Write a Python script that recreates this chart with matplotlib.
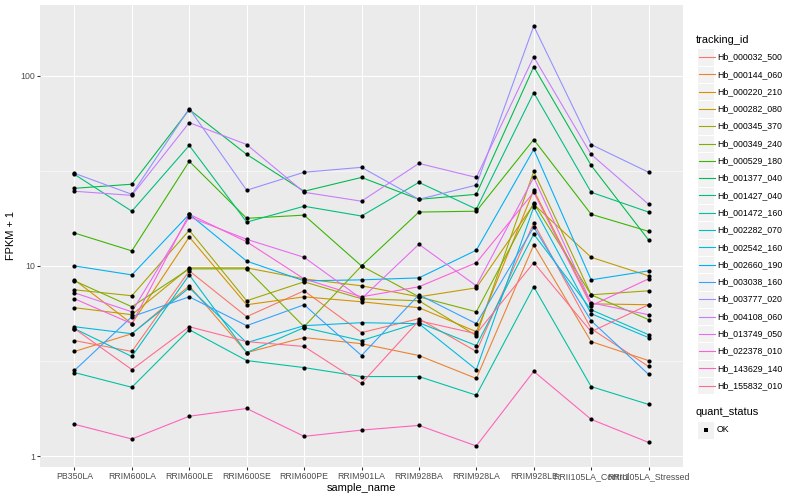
import matplotlib
matplotlib.use('Agg')
import matplotlib.pyplot as plt
from matplotlib.patches import Rectangle
import numpy as np

plt.rcParams['font.family'] = ['Liberation Sans', 'DejaVu Sans']

samples = ['PB350LA', 'RRIM600LA', 'RRIM600LE', 'RRIM600SE', 'RRIM600PE', 'RRIM901LA',
           'RRIM928BA', 'RRIM928LA', 'RRIM928LE', 'RRII105LA_Control', 'RRII105LA_Stressed']

tracking_ids = ['Hb_000032_500', 'Hb_000144_060', 'Hb_000220_210', 'Hb_000282_080',
                'Hb_000345_370', 'Hb_000349_240', 'Hb_000529_180', 'Hb_001377_040',
                'Hb_001427_040', 'Hb_001472_160', 'Hb_002282_070', 'Hb_002542_160',
                'Hb_002660_190', 'Hb_003038_160', 'Hb_003777_020', 'Hb_004108_060',
                'Hb_013749_050', 'Hb_022378_010', 'Hb_143629_140', 'Hb_155832_010']

# FPKM + 1, one list per gene, in sample order
hb_000032_500 = [4.05, 3.55, 9.42, 5.41, 7.40, 4.46, 5.28, 3.55, 16.8, 4.68, 2.96]
hb_000144_060 = [3.55, 4.40, 7.86, 3.50, 4.20, 3.90, 3.38, 2.56, 12.9, 4.00, 3.18]
hb_000220_210 = [8.45, 4.97, 14.2, 6.25, 6.88, 6.48, 6.03, 4.51, 25.0, 6.32, 6.25]
hb_000282_080 = [6.03, 5.54, 9.77, 9.77, 8.55, 7.86, 6.88, 7.67, 21.1, 11.1, 8.87]
hb_000345_370 = [7.49, 6.97, 15.4, 6.56, 8.25, 6.72, 6.56, 4.30, 31.4, 7.05, 7.40]
hb_000349_240 = [8.35, 6.10, 9.65, 9.65, 4.79, 10.0, 6.88, 5.74, 21.4, 7.05, 5.22]
hb_000529_180 = [14.9, 12.0, 35.5, 17.8, 18.5, 10.0, 19.2, 19.4, 46.2, 18.7, 15.2]
hb_001377_040 = [25.6, 26.9, 66.4, 38.6, 24.7, 29.2, 22.4, 23.8, 111.5, 33.8, 13.7]
hb_001427_040 = [30.3, 19.4, 43.0, 17.0, 20.6, 18.3, 27.5, 19.9, 81.5, 24.4, 19.2]
hb_001472_160 = [2.75, 2.30, 4.62, 3.18, 2.92, 2.62, 2.62, 2.09, 7.77, 2.32, 1.87]
hb_002282_070 = [4.68, 3.34, 8.97, 3.50, 4.74, 4.05, 5.03, 3.81, 14.7, 5.88, 4.35]
hb_002542_160 = [4.79, 4.40, 7.67, 3.95, 4.85, 5.03, 4.97, 2.85, 20.4, 5.61, 4.20]
hb_002660_190 = [10.0, 8.97, 18.7, 10.6, 8.35, 8.45, 8.65, 12.1, 41.0, 8.45, 9.42]
hb_003038_160 = [2.82, 5.41, 6.88, 4.85, 6.25, 3.38, 7.05, 4.97, 16.0, 5.15, 2.69]
hb_003777_020 = [30.7, 23.8, 67.2, 25.0, 31.1, 33.0, 22.4, 26.6, 182.7, 43.5, 31.1]
hb_004108_060 = [24.7, 23.5, 56.7, 43.5, 24.4, 21.9, 34.6, 29.2, 125.7, 38.6, 21.1]
hb_013749_050 = [7.22, 5.74, 18.1, 13.8, 11.1, 6.72, 13.0, 7.86, 29.2, 6.40, 5.54]
hb_022378_010 = [6.72, 4.97, 18.7, 13.4, 8.55, 6.88, 7.77, 10.4, 24.4, 6.18, 8.55]
hb_143629_140 = [1.47, 1.23, 1.62, 1.78, 1.27, 1.37, 1.45, 1.13, 2.79, 1.56, 1.18]
hb_155832_010 = [4.68, 2.85, 4.79, 4.00, 3.77, 2.41, 5.15, 4.40, 10.4, 4.51, 6.25]

series = [hb_000032_500, hb_000144_060, hb_000220_210, hb_000282_080, hb_000345_370,
          hb_000349_240, hb_000529_180, hb_001377_040, hb_001427_040, hb_001472_160,
          hb_002282_070, hb_002542_160, hb_002660_190, hb_003038_160, hb_003777_020,
          hb_004108_060, hb_013749_050, hb_022378_010, hb_143629_140, hb_155832_010]

# ggplot hue palette for 20 levels
colors = ['#F8766D', '#EA8331', '#D89000', '#C09B00', '#A3A500', '#7CAE00', '#39B600',
          '#00BB4E', '#00BF7D', '#00C1A3', '#00BFC4', '#00BAE0', '#00B0F6', '#35A2FF',
          '#9590FF', '#C77CFF', '#E76BF3', '#FA62DB', '#FF62BC', '#FF6C91']

fig = plt.figure(figsize=(800 / 72, 500 / 72), dpi=72)
ax = fig.add_axes([40 / 800, 33 / 500, 643 / 800, 462 / 500])
ax.set_facecolor('#EBEBEB')

x = np.arange(len(samples))
for vals, col in zip(series, colors):
    ax.plot(x, vals, color=col, lw=1.1, zorder=3)
for vals in series:
    ax.plot(x, vals, 'o', color='black', ms=4.2, mew=0, zorder=4)

ax.set_yscale('log')
allv = np.log10(np.concatenate([np.array(s) for s in series]))
lo, hi = allv.min(), allv.max()
r = hi - lo
ax.set_ylim(10 ** (lo - 0.05 * r), 10 ** (hi + 0.05 * r))
ax.set_xlim(-0.6, len(samples) - 0.4)

ax.set_yticks([1, 10, 100])
ax.set_yticklabels(['1', '10', '100'])
ax.set_yticks([10 ** 0.5, 10 ** 1.5], minor=True)
ax.yaxis.set_minor_formatter(matplotlib.ticker.NullFormatter())
ax.set_xticks(x)
ax.set_xticklabels(samples)

ax.grid(which='major', color='white', lw=1.07, zorder=0)
ax.grid(which='minor', axis='y', color='white', lw=0.53, zorder=0)
ax.set_axisbelow(True)
for s in ax.spines.values():
    s.set_visible(False)
ax.tick_params(which='major', length=2.75, width=1.07, color='#333333',
               labelsize=8.8, labelcolor='#4D4D4D', pad=2.2)
ax.tick_params(which='minor', length=0)

ax.set_xlabel('sample_name', fontsize=11, labelpad=2.5)
ax.set_ylabel('FPKM + 1', fontsize=11, labelpad=4)

# legends drawn in pixel coordinates
lax = fig.add_axes([0, 0, 1, 1], zorder=5)
lax.set_xlim(0, 800)
lax.set_ylim(500, 0)
lax.axis('off')

key = 17.3
lax.text(696, 40, 'tracking_id', fontsize=11, va='center', ha='left')
for i, (name, col) in enumerate(zip(tracking_ids, colors)):
    yc = 57 + i * key
    lax.add_patch(Rectangle((697, yc - key / 2), key, key, fc='#F2F2F2', ec='white', lw=1))
    lax.plot([698.7, 714.6], [yc, yc], color=col, lw=1.1)
    lax.text(717, yc, name, fontsize=8.8, va='center', ha='left')

lax.text(696, 412, 'quant_status', fontsize=11, va='center', ha='left')
yc = 430
lax.add_patch(Rectangle((697, yc - key / 2), key, key, fc='#F2F2F2', ec='white', lw=1))
lax.plot([697 + key / 2], [yc], 's', color='black', ms=3.5, mew=0)
lax.text(717, yc, 'OK', fontsize=8.8, va='center', ha='left')

fig.savefig('out.png', dpi=72)
